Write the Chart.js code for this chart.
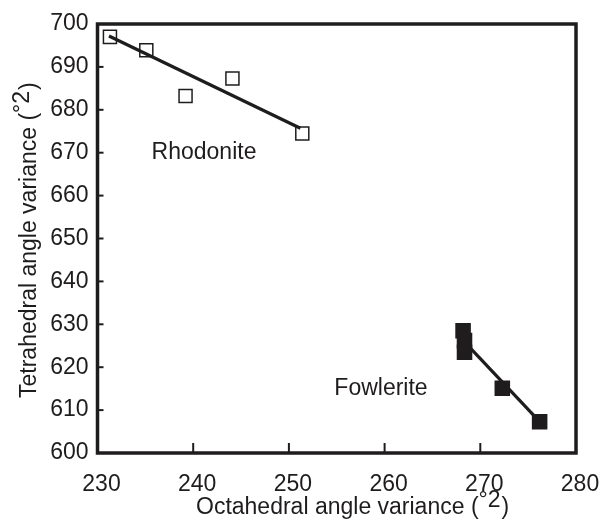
<!DOCTYPE html>
<html><head><meta charset="utf-8">
<script src="https://cdn.jsdelivr.net/npm/chart.js@4.4.1/dist/chart.umd.min.js"></script>
<style>html,body{margin:0;padding:0;background:#fff;}#wrap{width:603px;height:519px;}</style>
</head><body><div id="wrap"><canvas id="c" width="603" height="519"></canvas></div>
<script>
// ---- data ----
const xTicks = [230, 240, 250, 260, 270, 280];
const yTicks = [600, 610, 620, 630, 640, 650, 660, 670, 680, 690, 700];

const rhodoniteX = [231.3, 235.1, 239.2, 244.1, 251.4];
const rhodoniteY = [697.0, 693.9, 683.2, 687.3, 674.5];
const rhodoniteFitX = [231.2, 251.2];
const rhodoniteFitY = [697.2, 675.7];

const fowleriteX = [268.2, 268.35, 268.35, 272.3, 276.2];
const fowleriteY = [628.5, 626.2, 623.5, 615.1, 607.3];
const fowleriteFitX = [268.3, 276.2];
const fowleriteFitY = [626.0, 607.3];

const seriesNames = ['Rhodonite', 'Fowlerite'];
const xTitleParts = ['Octahedral angle variance (', '°2', ')'];
const yTitleParts = ['Tetrahedral angle variance (', '°2', ')'];

// ---- build ----
const pts = (xs, ys) => xs.map((x, i) => ({x: x, y: ys[i]}));
const INK = '#1f1c1d';
const FONT = '"Liberation Sans", Arial, Helvetica, sans-serif';

const decor = {
  id: 'decor',
  afterDatasetsDraw(chart) {
    const ctx = chart.ctx, a = chart.chartArea;
    const xs = chart.scales.x, ys = chart.scales.y;
    ctx.save();
    ctx.strokeStyle = INK;
    // inner ticks
    ctx.lineWidth = 2;
    xTicks.slice(1, -1).forEach(v => {
      const px = xs.getPixelForValue(v);
      ctx.beginPath(); ctx.moveTo(px, a.bottom); ctx.lineTo(px, a.bottom - 10); ctx.stroke();
    });
    yTicks.slice(1, -1).forEach(v => {
      const py = ys.getPixelForValue(v);
      ctx.beginPath(); ctx.moveTo(a.left, py); ctx.lineTo(a.left + 6, py); ctx.stroke();
    });
    // frame
    ctx.lineWidth = 3.5;
    ctx.strokeRect(a.left, a.top, a.right - a.left, a.bottom - a.top);
    // annotations
    ctx.fillStyle = INK;
    ctx.font = '23px ' + FONT;
    ctx.textBaseline = 'alphabetic';
    ctx.textAlign = 'left';
    ctx.fillText(seriesNames[0], xs.getPixelForValue(235.65), ys.getPixelForValue(668.5));
    ctx.textAlign = 'right';
    ctx.fillText(seriesNames[1], xs.getPixelForValue(264.5), ys.getPixelForValue(613.5));
    // axis titles with raised unit
    const drawTitle = (parts, x, y, rot) => {
      ctx.save();
      ctx.translate(x, y);
      ctx.rotate(rot);
      ctx.textAlign = 'left';
      ctx.font = '23px ' + FONT;
      let cx = 0;
      ctx.fillText(parts[0], cx, 0); cx += ctx.measureText(parts[0]).width;
      ctx.fillText(parts[1], cx, -7); cx += ctx.measureText(parts[1]).width;
      ctx.fillText(parts[2], cx + 1, 0);
      ctx.restore();
    };
    drawTitle(xTitleParts, 196, 514, 0);
    drawTitle(yTitleParts, 36, 398, -Math.PI / 2);
    ctx.restore();
  }
};

new Chart(document.getElementById('c'), {
  type: 'scatter',
  data: {
    datasets: [
      {label: seriesNames[0] + ' fit', type: 'line', data: pts(rhodoniteFitX, rhodoniteFitY),
       borderColor: INK, borderWidth: 3.2, pointRadius: 0, fill: false, order: 0},
      {label: seriesNames[1] + ' fit', type: 'line', data: pts(fowleriteFitX, fowleriteFitY),
       borderColor: INK, borderWidth: 3.2, pointRadius: 0, fill: false, order: 0},
      {label: seriesNames[0], data: pts(rhodoniteX, rhodoniteY), pointStyle: 'rect',
       pointRadius: 9.2, borderColor: INK, borderWidth: 1.5, backgroundColor: '#ffffff', order: 1},
      {label: seriesNames[1], data: pts(fowleriteX, fowleriteY), pointStyle: 'rect',
       pointRadius: 11, borderWidth: 0, borderColor: INK, backgroundColor: INK, order: 1}
    ]
  },
  options: {
    responsive: false,
    animation: false,
    devicePixelRatio: 1,
    layout: {padding: {top: 24, right: 27, left: 0, bottom: 0}},
    plugins: {legend: {display: false}, tooltip: {enabled: false}},
    scales: {
      x: {
        type: 'linear', min: xTicks[0], max: xTicks[xTicks.length - 1],
        afterBuildTicks: s => { s.ticks = xTicks.map(v => ({value: v})); },
        afterFit: s => { s.height = 66; s.paddingLeft = 0; s.paddingRight = 0; },
        grid: {display: false, drawTicks: false},
        border: {display: false},
        ticks: {font: {family: FONT, size: 23}, color: INK, padding: 18, labelOffset: 4, maxRotation: 0, autoSkip: false}
      },
      y: {
        type: 'linear', min: yTicks[0], max: yTicks[yTicks.length - 1],
        afterBuildTicks: s => { s.ticks = yTicks.map(v => ({value: v})); },
        afterFit: s => { s.width = 97.5; s.paddingTop = 0; s.paddingBottom = 0; },
        grid: {display: false, drawTicks: false},
        border: {display: false},
        ticks: {font: {family: FONT, size: 23}, color: INK, padding: 9, autoSkip: false}
      }
    }
  },
  plugins: [decor]
});
</script></body></html>
